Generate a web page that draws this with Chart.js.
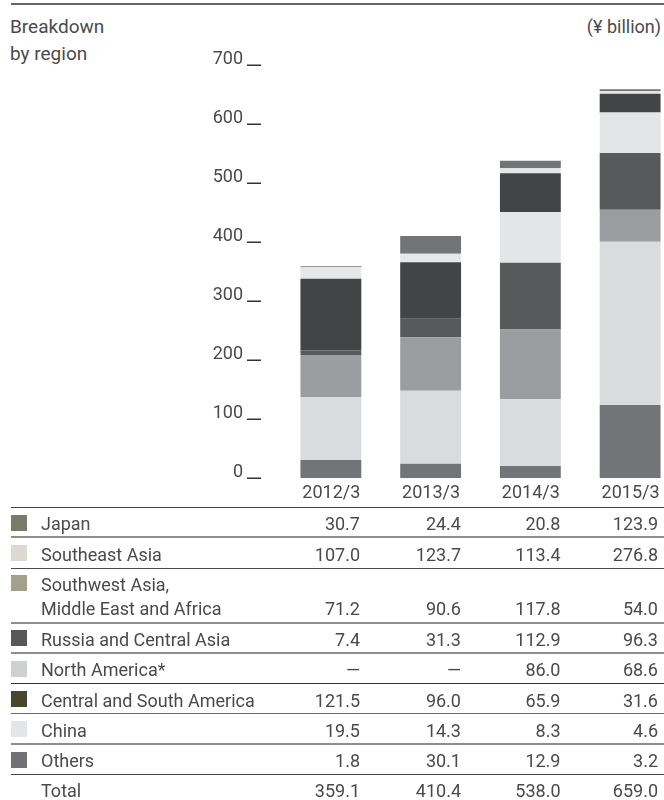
<!DOCTYPE html>
<html>
<head>
<meta charset="utf-8">
<script src="https://cdn.jsdelivr.net/npm/chart.js@4.4.1/dist/chart.umd.min.js"></script>
<style>
  html, body { margin: 0; padding: 0; width: 664px; height: 800px; overflow: hidden; background: #fff; }
  body { position: relative; font-family: Roboto, "Liberation Sans", sans-serif; font-size: 18px; color: #4a4a4a; }
  #rule { position: absolute; left: 11px; top: 3px; width: 653px; border-top: 2px solid #666; }
  #title { position: absolute; left: 10px; top: 13px; line-height: 27px; font-size: 19px; }
  #unit { position: absolute; right: 3px; top: 13px; line-height: 27px; }
  #plot { position: absolute; left: 0; top: 0; }
  #table { position: absolute; left: 11px; top: 507px; width: 653px; border-top: 1.5px solid #444; }
  .row { display: flex; box-sizing: border-box; height: 30.3px; padding-top: 4.4px; line-height: 24px; border-bottom: 1.5px solid #999; }
  .row.tall { height: 55px; }
  .row.last { border-bottom: none; }
  .sw { width: 16px; height: 16px; margin-top: 2.5px; margin-right: 14px; flex: none; }
  .gap { width: 30px; flex: none; }
  .name { width: 230px; flex: none; white-space: pre; }
  .num { text-align: right; flex: none; }
  .tall .num { padding-top: 24px; }
</style>
</head>
<body>
<div id="rule"></div>
<div id="title">Breakdown<br>by region</div>
<div id="unit">(¥ billion)</div>
<!-- the y scale keeps ~49px below the plot for its own padding, so the canvas runs under the table -->
<canvas id="plot" width="700" height="527"></canvas>
<div id="table"></div>

<script>
// fiscal years and regions
const years = ['2012/3', '2013/3', '2014/3', '2015/3']
const regions = [
  'Japan',
  'Southeast Asia',
  'Southwest Asia,\nMiddle East and Africa',
  'Russia and Central Asia',
  'North America*',
  'Central and South America',
  'China',
  'Others',
]

// sales by region, ¥ billion
const japan = [30.7, 24.4, 20.8, 123.9]
const southeastAsia = [107.0, 123.7, 113.4, 276.8]
const southwestAsia = [71.2, 90.6, 117.8, 54.0]
const russiaCentralAsia = [7.4, 31.3, 112.9, 96.3]
const northAmerica = [null, null, 86.0, 68.6]
const centralSouthAmerica = [121.5, 96.0, 65.9, 31.6]
const china = [19.5, 14.3, 8.3, 4.6]
const others = [1.8, 30.1, 12.9, 3.2]

const yTicks = [0, 100, 200, 300, 400, 500, 600, 700]

const series = [japan, southeastAsia, southwestAsia, russiaCentralAsia,
  northAmerica, centralSouthAmerica, china, others]

// bar fills and legend swatches (swatches are slightly warmer)
const barColors = ['#737478', '#dadbdd', '#9c9da0', '#58595b', '#e4e5e6', '#434446', '#e6e7e8', '#737478']
const swatchColors = ['#7b7a6b', '#dbd9d1', '#a3a18e', '#58585a', '#cfd0d2', '#48462f', '#e4e5e7', '#717175']
const rowRules = ['2px solid #8e8e8e', '1.5px solid #4a4a4a', '2px solid #8e8e8e', '2px solid #8e8e8e',
  '1.5px solid #333', '1.5px solid #6a6a6a', '2px solid #8e8e8e', '1.5px solid #444']

const textColor = '#4a4a4a'
const font = { family: 'Roboto', size: 18 }

// short dash under each y tick label
const tickDashes = {
  id: 'tickDashes',
  afterDraw(chart) {
    const y = chart.scales.y
    const ctx = chart.ctx
    const left = chart.chartArea.left
    ctx.save()
    ctx.strokeStyle = '#333'
    ctx.lineWidth = 1.5
    y.ticks.forEach(t => {
      const py = Math.round(y.getPixelForValue(t.value)) + 0.25
      ctx.beginPath()
      ctx.moveTo(left - 34, py)
      ctx.lineTo(left - 20, py)
      ctx.stroke()
    })
    ctx.restore()
  },
}

new Chart(document.getElementById('plot'), {
  type: 'bar',
  data: {
    labels: years,
    datasets: series.map((d, i) => ({
      label: regions[i],
      data: d,
      backgroundColor: barColors[i],
      borderWidth: 0,
      barPercentage: 0.61,
      categoryPercentage: 1,
    })),
  },
  options: {
    responsive: false,
    animation: false,
    layout: { padding: { top: 65, right: 20, bottom: 0, left: 0 } },
    plugins: {
      legend: { display: false },
      tooltip: { enabled: false },
    },
    scales: {
      x: {
        stacked: true,
        afterFit(s) { s.height = 30 },
        grid: { display: false, drawTicks: false },
        border: { display: false },
        ticks: { align: 'end', labelOffset: 29.5, padding: 4, maxRotation: 0, color: textColor, font },
      },
      y: {
        stacked: true,
        min: 0,
        max: 700,
        afterFit(s) { s.width = 281 },
        afterBuildTicks(s) { s.ticks = yTicks.map(v => ({ value: v })) },
        grid: { display: false, drawTicks: false },
        border: { display: false },
        ticks: { padding: 38, labelOffset: -6, color: textColor, font },
      },
    },
  },
  plugins: [tickDashes],
})

// table under the chart
const fmt = v => (v == null ? '—' : v.toFixed(1))
const numWidths = [89, 101, 99.5, 97.5]
const table = document.getElementById('table')

function addRow(swatch, name, values, rule, tall, last) {
  const row = document.createElement('div')
  row.className = 'row' + (tall ? ' tall' : '') + (last ? ' last' : '')
  if (rule) row.style.borderBottom = rule
  let html = swatch
    ? `<div class="sw" style="background:${swatch}"></div>`
    : '<div class="gap"></div>'
  html += `<div class="name">${name}</div>`
  values.forEach((v, i) => {
    html += `<div class="num" style="width:${numWidths[i]}px">${v}</div>`
  })
  row.innerHTML = html
  table.appendChild(row)
}

regions.forEach((r, i) => {
  addRow(swatchColors[i], r, series[i].map(fmt), rowRules[i], r.includes('\n'), false)
})

const totals = years.map((_, j) => series.reduce((s, d) => s + (d[j] || 0), 0))
addRow(null, 'Total', totals.map(fmt), null, false, true)
</script>
</body>
</html>
